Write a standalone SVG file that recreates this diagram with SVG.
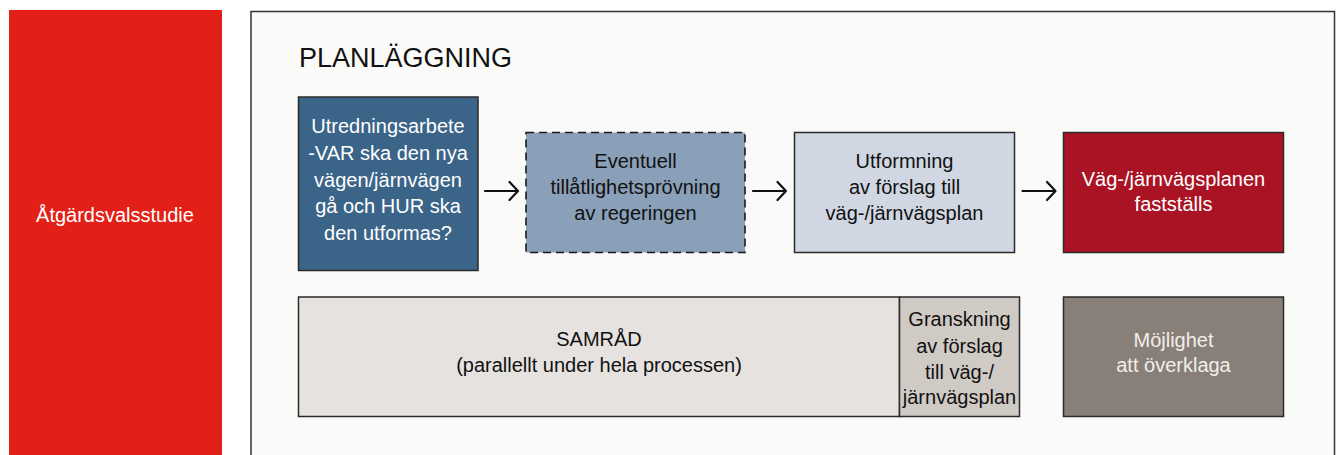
<svg xmlns="http://www.w3.org/2000/svg" width="1336" height="455" viewBox="0 0 1336 455">
<defs>
<style>
text{font-family:"Liberation Sans",Arial,sans-serif;font-size:20px;text-anchor:middle}
.box{stroke:#2a2a2a;stroke-width:1.5}
.w{fill:#ffffff}
.k{fill:#111111}
.conn{stroke:#111;stroke-width:2.2;fill:none;stroke-linecap:round;stroke-linejoin:round}
</style>
</defs>
<rect width="1336" height="455" fill="#ffffff"/>
<g id="atgardsvalsstudie">
<rect x="9" y="10" width="213" height="450" fill="#e32017"/>
<text class="w" x="115" y="222">Åtgärdsvalsstudie</text>
</g>
<g id="planlaggning">
<rect x="251" y="11.5" width="1083.5" height="450" fill="#fafaf8" stroke="#333" stroke-width="1.5"/>
<text x="299" y="67" style="font-size:27px;text-anchor:start" fill="#111">PLANLÄGGNING</text>
</g>
<g id="utredningsarbete">
<rect class="box" x="298.5" y="97" width="179.5" height="173.5" fill="#3b6489"/>
<text class="w" x="388" y="133">Utredningsarbete</text>
<text class="w" x="388" y="160">-VAR ska den nya</text>
<text class="w" x="388" y="186.5">vägen/järnvägen</text>
<text class="w" x="388" y="213">gå och HUR ska</text>
<text class="w" x="388" y="239.5">den utformas?</text>
</g>
<g id="tillatlighetsprovning">
<rect x="526" y="132.5" width="219" height="120" fill="#8a9fb8" stroke="#1a1a1a" stroke-width="1.6" stroke-dasharray="8,5"/>
<text class="k" x="635.5" y="168">Eventuell</text>
<text class="k" x="635.5" y="194">tillåtlighetsprövning</text>
<text class="k" x="635.5" y="219.5">av regeringen</text>
</g>
<g id="utformning">
<rect class="box" x="794.5" y="132.5" width="220" height="120" fill="#d0d7e3"/>
<text class="k" x="904.5" y="168">Utformning</text>
<text class="k" x="904.5" y="194">av förslag till</text>
<text class="k" x="904.5" y="219.5">väg-/järnvägsplan</text>
</g>
<g id="faststalls">
<rect class="box" x="1063.5" y="132.5" width="220" height="120" fill="#a91324"/>
<text class="w" x="1173.5" y="186">Väg-/järnvägsplanen</text>
<text class="w" x="1173.5" y="211">fastställs</text>
</g>
<g id="samrad">
<rect class="box" x="298.5" y="297" width="601" height="119.5" fill="#e6e2e0"/>
<text class="k" x="599" y="346">SAMRÅD</text>
<text class="k" x="599" y="371.5">(parallellt under hela processen)</text>
</g>
<g id="granskning">
<rect class="box" x="899.5" y="297" width="120" height="119.5" fill="#d0cac5"/>
<text class="k" x="959.5" y="326">Granskning</text>
<text class="k" x="959.5" y="352.5">av förslag</text>
<text class="k" x="959.5" y="379">till väg-/</text>
<text class="k" x="959.5" y="403.5">järnvägsplan</text>
</g>
<g id="overklaga">
<rect class="box" x="1063.5" y="297" width="220" height="119.5" fill="#887f78"/>
<text x="1173.5" y="346.5" fill="#f2eeea">Möjlighet</text>
<text x="1173.5" y="371.5" fill="#f2eeea">att överklaga</text>
</g>
<g id="connectors">
<path class="conn" d="M485 191H518M509.5 182L518 191L509.5 200"/>
<path class="conn" d="M753 191H786M777.5 182L786 191L777.5 200"/>
<path class="conn" d="M1022.5 191H1055.5M1047 182L1055.5 191L1047 200"/>
</g>
</svg>
